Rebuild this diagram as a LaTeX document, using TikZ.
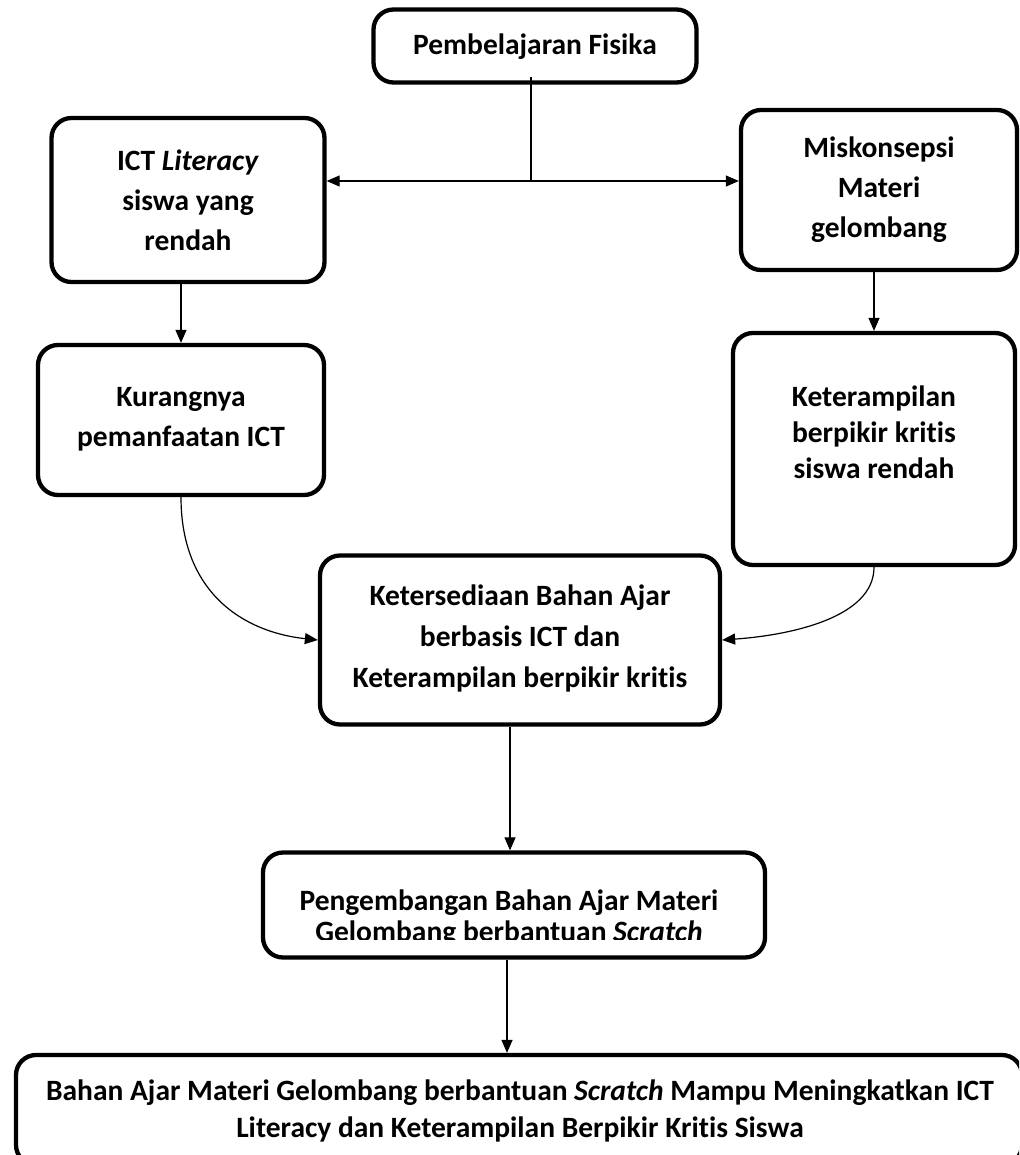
\documentclass[tikz,border=0pt]{standalone}
\usepackage{fontspec}
\setmainfont{Carlito}[Ligatures=NoCommon]
\usetikzlibrary{arrows.meta,calc}
\begin{document}
\begin{tikzpicture}[x=1pt,y=-1pt,
  box/.style={draw,line width=4.3pt,rounded corners=20pt,inner sep=0pt},
  txt/.style={align=center,font=\bfseries\fontsize{29.5}{40}\selectfont,inner sep=0pt},
  conn/.style={line width=1.2pt,-{Triangle[length=13pt,width=11pt]}},
  dconn/.style={line width=1.2pt,{Triangle[length=13pt,width=11pt]}-{Triangle[length=13pt,width=11pt]}}]
\clip (0,0) rectangle (1019,1155);
% boxes
\node[box,minimum width=323pt,minimum height=73pt] (top) at (535,46) {};
\node[box,minimum width=273pt,minimum height=164pt] (ict) at (188,200) {};
\node[box,minimum width=276pt,minimum height=160pt] (mis) at (879,190) {};
\node[box,minimum width=286pt,minimum height=150pt] (kur) at (181,420) {};
\node[box,minimum width=282pt,minimum height=232pt] (ket) at (874,449) {};
\node[box,minimum width=400pt,minimum height=169pt] (cen) at (520,640) {};
\node[box,minimum width=502pt,minimum height=105pt] (peng) at (514,905) {};
\node[box,minimum width=1006pt,minimum height=110pt] (bot) at (519,1110) {};
% texts
\node[txt] (topt) at (535,47) {Pembelajaran Fisika};
\node[txt] (ictt) at (188,200) {ICT \textit{Literacy}\\siswa yang\\rendah};
\node[txt] (mist) at (879,190) {Miskonsepsi\\Materi\\gelombang};
\node[txt] (kurt) at (181,419) {Kurangnya\\pemanfaatan ICT};
\node[txt,font=\bfseries\fontsize{29.5}{36}\selectfont] (kett) at (874,432) {Keterampilan\\berpikir kritis\\siswa rendah};
\node[txt,font=\bfseries\fontsize{29.5}{41}\selectfont] (cent) at (520,638) {Ketersediaan Bahan Ajar\\berbasis ICT dan\\Keterampilan berpikir kritis};
\begin{scope}
\clip (263,850) rectangle (765,939);
\node[txt,font=\bfseries\fontsize{29.5}{31}\selectfont,anchor=base] (pengt) at (509,941) {Pengembangan Bahan Ajar Materi\\Gelombang berbantuan \textit{Scratch}};
\end{scope}
\node[txt,font=\bfseries\fontsize{29.5}{37}\selectfont] (bott) at (520,1111) {Bahan Ajar Materi Gelombang berbantuan \textit{Scratch} Mampu Meningkatkan ICT\\Literacy dan Keterampilan Berpikir Kritis Siswa};
% connectors
\coordinate (ts) at (531,77);
\coordinate (j) at (531,181);
\draw[line width=1.2pt] (ts) -- (j);
\draw[dconn] (j -| ict.east) -- (j -| mis.west);
\draw[conn] (kur.north |- ict.south) -- (kur.north);
\draw[conn] (ket.north |- mis.south) -- (ket.north);
\draw[conn] (kur.south) .. controls +(0,95) and +(-75,-8) .. (cen.west);
\draw[conn] (ket.south) .. controls +(0,50) and +(70,-5) .. (cen.east);
\draw[conn] (cen.south -| 510,0) -- (peng.north -| 510,0);
\draw[conn] (peng.south -| 507,0) -- (bot.north -| 507,0);
\end{tikzpicture}
\end{document}
